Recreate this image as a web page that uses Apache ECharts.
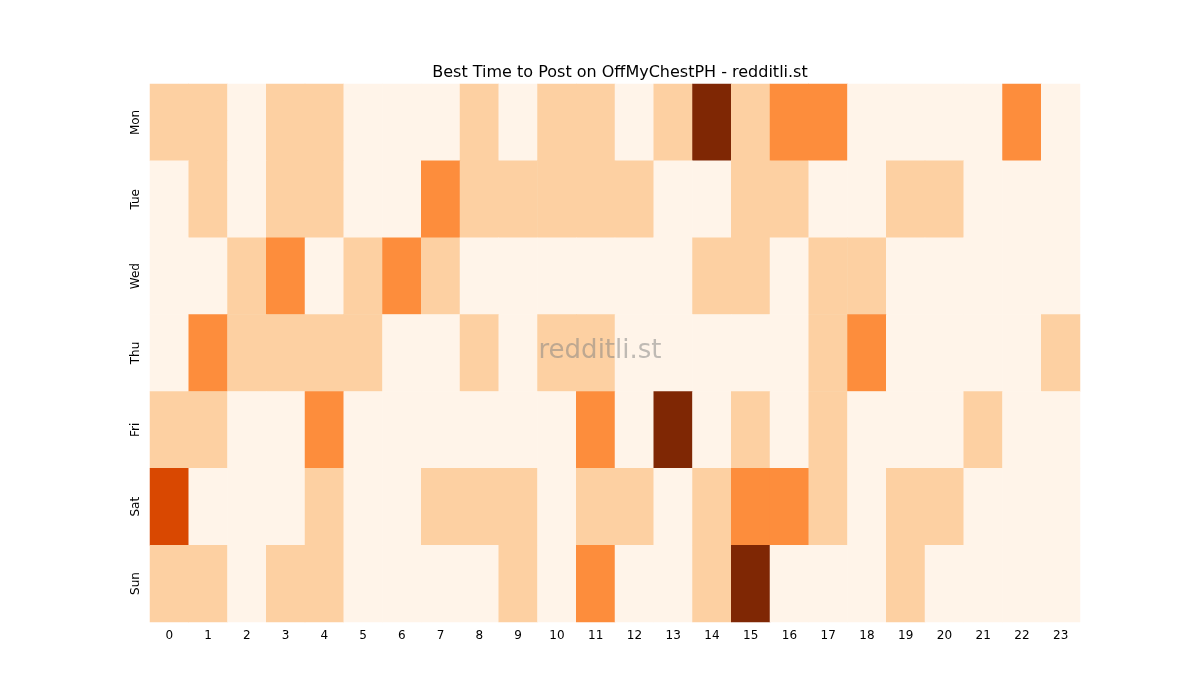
<!DOCTYPE html><html><head><meta charset="utf-8">
<script src="https://cdn.jsdelivr.net/npm/echarts@6/dist/echarts.min.js"></script>
<style>html,body{margin:0;background:#fff}#c{width:1200px;height:700px}</style></head><body><div id="c"></div>
<script>
const hours=['0','1','2','3','4','5','6','7','8','9','10','11','12','13','14','15','16','17','18','19','20','21','22','23'];
const days=['Mon','Tue','Wed','Thu','Fri','Sat','Sun'];
const mon=[1,1,0,1,1,0,0,0,1,0,1,1,0,1,4,1,2,2,0,0,0,0,2,0];
const tue=[0,1,0,1,1,0,0,2,1,1,1,1,1,0,0,1,1,0,0,1,1,0,0,0];
const wed=[0,0,1,2,0,1,2,1,0,0,0,0,0,0,1,1,0,1,1,0,0,0,0,0];
const thu=[0,2,1,1,1,1,0,0,1,0,1,1,0,0,0,0,0,1,2,0,0,0,0,1];
const fri=[1,1,0,0,2,0,0,0,0,0,0,2,0,4,0,1,0,1,0,0,0,1,0,0];
const sat=[3,0,0,0,1,0,0,1,1,1,0,1,1,0,1,2,2,1,0,1,1,0,0,0];
const sun=[1,1,0,1,1,0,0,0,0,1,0,2,0,0,1,4,0,0,0,1,0,0,0,0];
const rows=[mon,tue,wed,thu,fri,sat,sun];
const data=[];rows.forEach((r,d)=>r.forEach((v,h)=>data.push([h,d,v])));
const colors=['#fff4e9','#fdd0a2','#fd8d3c','#d94801','#7f2704'];
const chart=echarts.init(document.getElementById('c'));
chart.setOption({
 animation:false,
 title:{text:'Best Time to Post on OffMyChestPH - redditli.st',left:615,top:60,textAlign:'center',textStyle:{fontSize:16,fontWeight:'normal',color:'#000',fontFamily:'DejaVu Sans'}},
 grid:{left:150,right:120,top:84,bottom:78},
 xAxis:{type:'category',data:hours,splitArea:{show:false},axisLine:{show:false},axisTick:{length:4,lineStyle:{color:'#000'}},axisLabel:{color:'#000',fontSize:12,fontFamily:'DejaVu Sans'}},
 yAxis:{type:'category',data:days,inverse:true,axisLine:{show:false},axisTick:{length:4,lineStyle:{color:'#000'}},axisLabel:{color:'#000',fontSize:12,rotate:90,fontFamily:'DejaVu Sans'}},
 visualMap:{show:false,type:'piecewise',dimension:2,pieces:colors.map((c,i)=>({value:i,color:c}))},
 graphic:[{type:'text',left:'center',top:338,z:100,style:{text:'redditli.st',fill:'rgba(128,128,128,0.5)',fontSize:26,fontFamily:'DejaVu Sans'},x:0}],
 series:[{type:'heatmap',data:data,itemStyle:{borderWidth:0}}]
});
</script></body></html>
